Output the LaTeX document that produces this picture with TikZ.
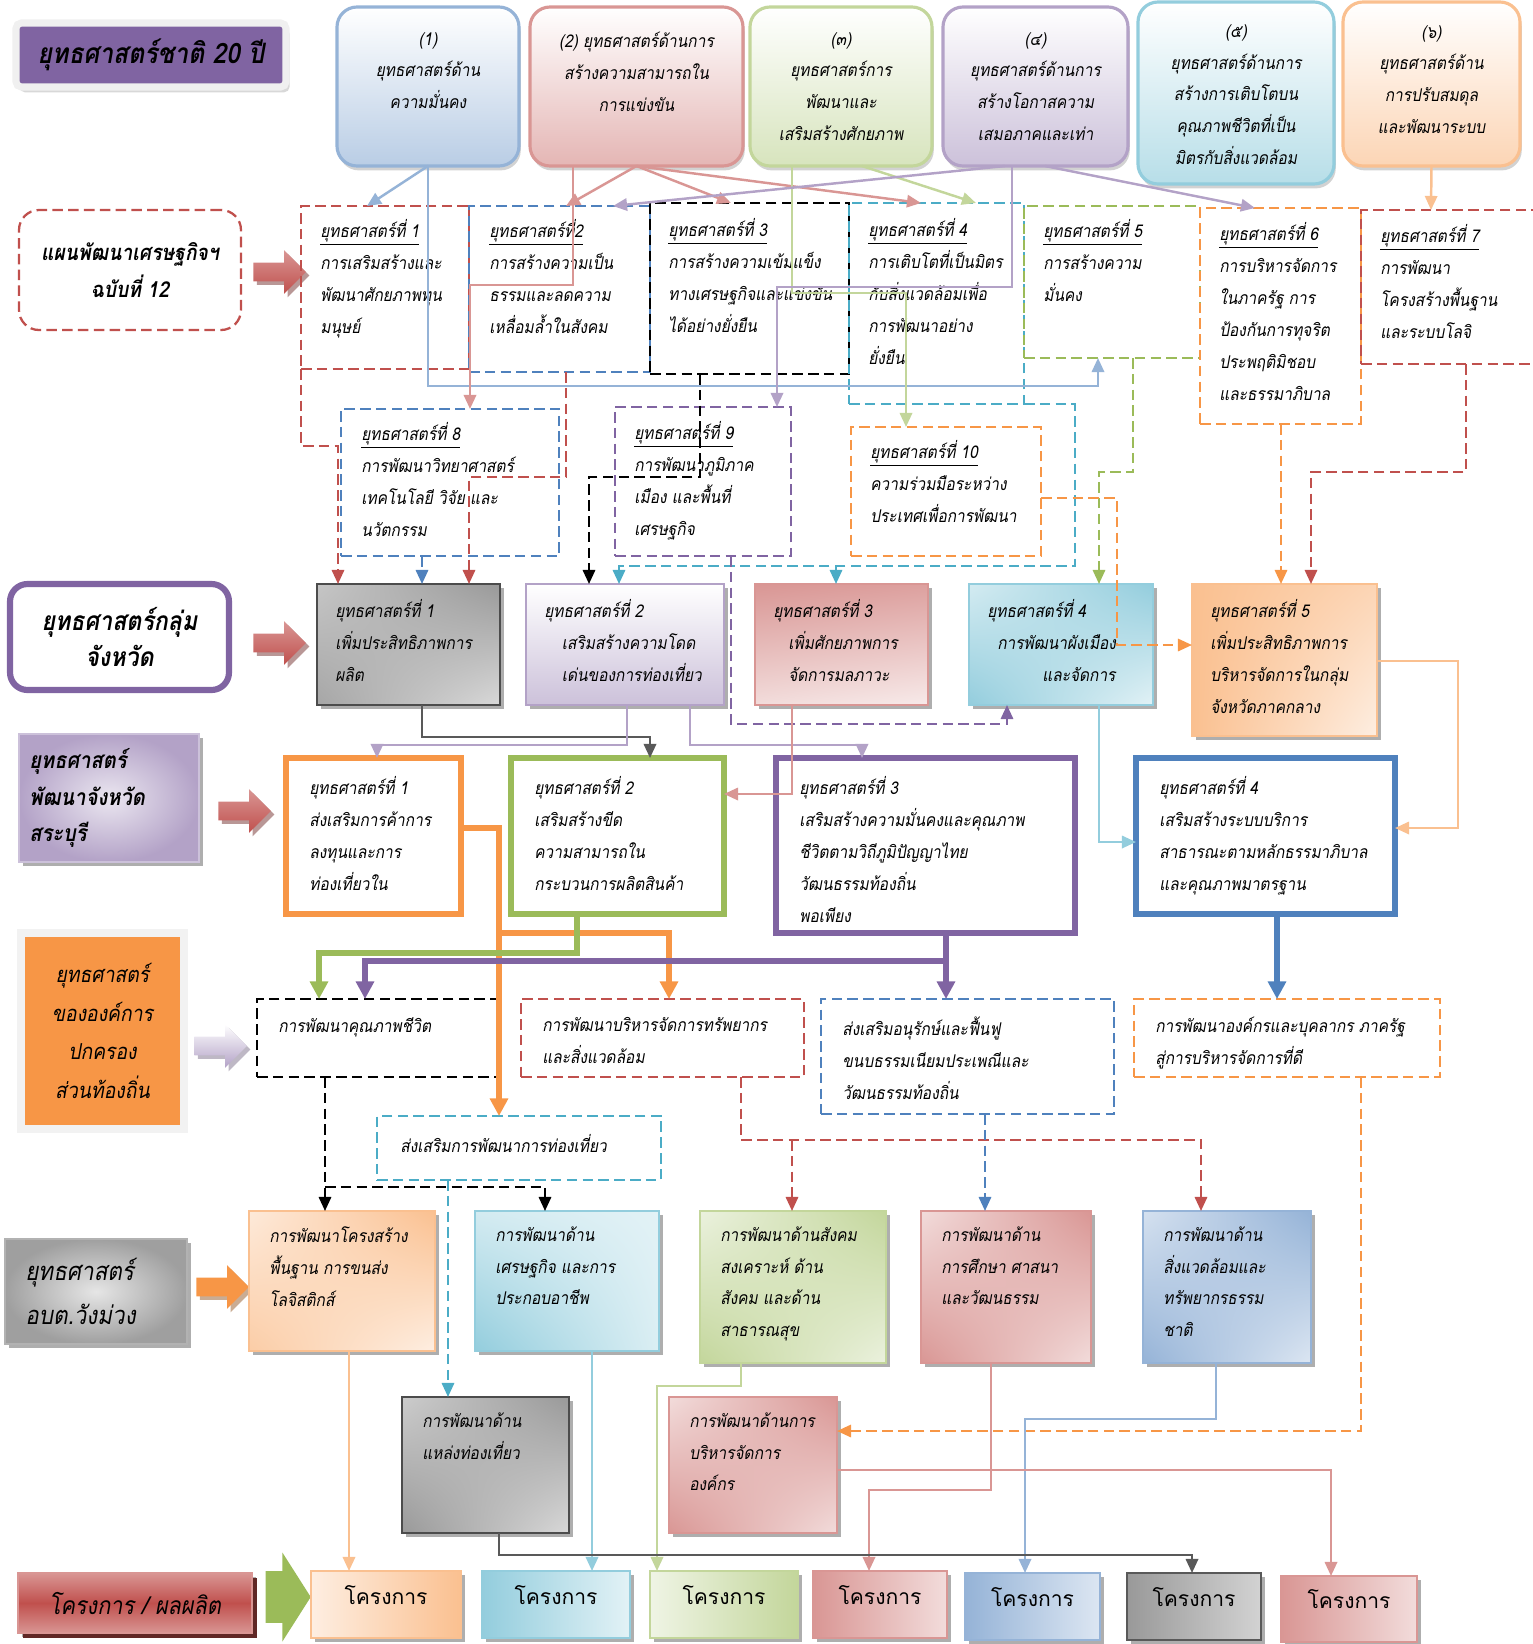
\documentclass[tikz,border=0pt]{standalone}
\usepackage{fontspec}
\setmainfont[Script=Thai,FakeSlant=0.18,FakeStretch=0.88]{Loma}
\newfontfamily\thaiup[Script=Thai]{Loma}
\usetikzlibrary{positioning,fit,arrows.meta,shapes.arrows,shadows,shadings}

\definecolor{ppD}{HTML}{8064A2}
\definecolor{ppL}{HTML}{CCC1DA}
\definecolor{ppB}{HTML}{B3A2C7}
\definecolor{blD}{HTML}{4F81BD}
\definecolor{blL}{HTML}{B9CDE5}
\definecolor{blB}{HTML}{95B3D7}
\definecolor{rdD}{HTML}{C0504D}
\definecolor{rdL}{HTML}{F2DCDB}
\definecolor{rdB}{HTML}{D99694}
\definecolor{gnD}{HTML}{9BBB59}
\definecolor{gnL}{HTML}{D7E4BD}
\definecolor{gnB}{HTML}{C3D69B}
\definecolor{cyD}{HTML}{4BACC6}
\definecolor{cyL}{HTML}{B7DEE8}
\definecolor{cyB}{HTML}{93CDDD}
\definecolor{orD}{HTML}{F79646}
\definecolor{orL}{HTML}{FCD5B5}
\definecolor{orB}{HTML}{FAC090}
\definecolor{gyD}{HTML}{595959}

\begin{document}
\begin{tikzpicture}[x=0.02cm, y=-0.02cm,
    box/.style={inner sep=0pt, outer sep=0pt},
    topbox/.style={box, rounded corners=0.4cm, line width=1.8pt, top color=white,
      drop shadow={shadow xshift=1pt, shadow yshift=-2.5pt, fill=black!35}},
    dbox/.style={box, line width=1.3pt, dash pattern=on 6pt off 3pt},
    shbox/.style={box, line width=1pt, drop shadow={shadow xshift=2.5pt, shadow yshift=-2.5pt, fill=black!45, opacity=.7}},
    vstbox/.style={box, line width=3.5pt, fill=white},
    kbox/.style={shbox, font=\thaiup\fontsize{12}{14}\selectfont},
    txt/.style={inner sep=0pt, align=left, font=\fontsize{10}{18.2}\selectfont},
    ttxt/.style={txt, align=center, font=\fontsize{10}{18}\selectfont},
    ttl/.style={inner sep=0pt, align=center, font=\bfseries\fontsize{15}{21}\selectfont},
    lbl/.style={inner sep=0pt, align=center, font=\fontsize{12.5}{22}\selectfont},
    blk/.style={single arrow, inner xsep=0pt, inner ysep=0.18cm, minimum height=1.05cm, minimum width=0.66cm},
    ln/.style={line width=1.4pt, -{Triangle[width=7pt,length=8pt]}},
    dln/.style={line width=1.3pt, dash pattern=on 6pt off 3pt, -{Triangle[width=7pt,length=8pt]}},
    tln/.style={line width=2.9pt, -{Triangle[width=10pt,length=10pt]}}
  ]
    \useasboundingbox (0,0) rectangle (1533,1644);

    % national strategy 20 years
    \node[box, fit={(16,23) (286,87)}, fill=ppD, draw=gray!12, line width=4pt, rounded corners=3pt,
      drop shadow={shadow xshift=2pt, shadow yshift=-3pt, fill=black!30}] (nat) {};
    \node[ttl, font=\bfseries\fontsize{16}{20}\selectfont] (natt) at (nat.center) {ยุทธศาสตร์ชาติ 20 ปี};

    \node[topbox, fit={(337,7) (519,166)}, draw=blB, bottom color=blL] (s1) {};
    \node[ttxt, below=0.5cm of s1.north] (s1t) {(1)\\ยุทธศาสตร์ด้าน\\ความมั่นคง};
    \node[topbox, fit={(530,7) (743,166)}, draw=rdB, bottom color=rdB!70] (s2) {};
    \node[ttxt, below=0.5cm of s2.north] (s2t) {(2) ยุทธศาสตร์ด้านการ\\สร้างความสามารถใน\\การแข่งขัน};
    \node[topbox, fit={(750,7) (932,166)}, draw=gnB, bottom color=gnL] (s3) {};
    \node[ttxt, below=0.5cm of s3.north] (s3t) {(๓)\\ยุทธศาสตร์การ\\พัฒนาและ\\เสริมสร้างศักยภาพ};
    \node[topbox, fit={(943,7) (1128,166)}, draw=ppB, bottom color=ppL] (s4) {};
    \node[ttxt, below=0.5cm of s4.north] (s4t) {(๔)\\ยุทธศาสตร์ด้านการ\\สร้างโอกาสความ\\เสมอภาคและเท่า};
    \node[topbox, fit={(1138,2) (1334,184)}, draw=cyB, bottom color=cyL] (s5) {};
    \node[ttxt, below=0.45cm of s5.north] (s5t) {(๕)\\ยุทธศาสตร์ด้านการ\\สร้างการเติบโตบน\\คุณภาพชีวิตที่เป็น\\มิตรกับสิ่งแวดล้อม};
    \node[topbox, fit={(1343,2) (1520,166)}, draw=orB, bottom color=orL] (s6) {};
    \node[ttxt, below=0.46cm of s6.north] (s6t) {(๖)\\ยุทธศาสตร์ด้าน\\การปรับสมดุล\\และพัฒนาระบบ};

    % plan no. 12
    \node[dbox, fit={(19,210) (241,330)}, draw=rdD, rounded corners=0.4cm] (plan) {};
    \node[ttl, font=\bfseries\fontsize{12.5}{21}\selectfont] (plant) at (plan.center) {แผนพัฒนาเศรษฐกิจฯ\\ฉบับที่ 12};
    \node[blk, top color=rdB, bottom color=rdD, drop shadow={shadow xshift=2pt, shadow yshift=-2pt, fill=rdD!60!black}] (ar1) at (275,272) {};

    \node[dbox, fit={(301,206) (469,369)}, draw=rdD] (b1) {};
    \node[txt, below right=0.26cm and 0.38cm of b1.north west] (b1t) {\underline{ยุทธศาสตร์ที่ 1}\\การเสริมสร้างและ\\พัฒนาศักยภาพทุน\\มนุษย์};
    \node[dbox, fit={(469,206) (650,372)}, draw=blD] (b2) {};
    \node[txt, below right=0.26cm and 0.4cm of b2.north west] (b2t) {\underline{ยุทธศาสตร์ที่2}\\การสร้างความเป็น\\ธรรมและลดความ\\เหลื่อมล้ำในสังคม};
    \node[dbox, fit={(650,203) (849,374)}, draw=black] (b3) {};
    \node[txt, below right=0.3cm and 0.36cm of b3.north west] (b3t) {\underline{ยุทธศาสตร์ที่ 3}\\การสร้างความเข้มแข็ง\\ทางเศรษฐกิจและแข่งขัน\\ได้อย่างยั่งยืน};
    \node[dbox, fit={(849,203) (1024,404)}, draw=cyD] (b4) {};
    \node[txt, below right=0.3cm and 0.38cm of b4.north west] (b4t) {\underline{ยุทธศาสตร์ที่ 4}\\การเติบโตที่เป็นมิตร\\กับสิ่งแวดล้อมเพื่อ\\การพัฒนาอย่าง\\ยั่งยืน};
    \node[dbox, fit={(1024,206) (1200,358)}, draw=gnD] (b5) {};
    \node[txt, below right=0.26cm and 0.38cm of b5.north west] (b5t) {\underline{ยุทธศาสตร์ที่ 5}\\การสร้างความ\\มั่นคง};
    \node[dbox, fit={(1200,208) (1361,424)}, draw=orD] (b6) {};
    \node[txt, below right=0.28cm and 0.38cm of b6.north west] (b6t) {\underline{ยุทธศาสตร์ที่ 6}\\การบริหารจัดการ\\ในภาครัฐ การ\\ป้องกันการทุจริต\\ประพฤติมิชอบ\\และธรรมาภิบาล};
    \node[dbox, fit={(1361,210) (1580,364)}, draw=rdD] (b7) {};
    \node[txt, below right=0.28cm and 0.38cm of b7.north west] (b7t) {\underline{ยุทธศาสตร์ที่ 7}\\การพัฒนา\\โครงสร้างพื้นฐาน\\และระบบโลจิ};
    \node[dbox, fit={(341,409) (559,556)}, draw=blD] (b8) {};
    \node[txt, below right=0.26cm and 0.4cm of b8.north west] (b8t) {\underline{ยุทธศาสตร์ที่ 8}\\การพัฒนาวิทยาศาสตร์\\เทคโนโลยี วิจัย และ\\นวัตกรรม};
    \node[dbox, fit={(615,407) (791,556)}, draw=ppD] (b9) {};
    \node[txt, below right=0.28cm and 0.38cm of b9.north west] (b9t) {\underline{ยุทธศาสตร์ที่ 9}\\การพัฒนาภูมิภาค\\เมือง และพื้นที่\\เศรษฐกิจ};
    \node[dbox, fit={(851,427) (1041,556)}, draw=orD] (b10) {};
    \node[txt, below right=0.26cm and 0.38cm of b10.north west] (b10t) {\underline{ยุทธศาสตร์ที่ 10}\\ความร่วมมือระหว่าง\\ประเทศเพื่อการพัฒนา};

    % provincial group
    \node[box, fit={(10,584) (229,690)}, draw=ppD, line width=3.5pt, rounded corners=0.35cm, fill=white] (grp) {};
    \node[ttl] (grpt) at (grp.center) {ยุทธศาสตร์กลุ่ม\\จังหวัด};
    \node[blk, top color=rdB, bottom color=rdD, drop shadow={shadow xshift=2pt, shadow yshift=-2pt, fill=rdD!60!black}] (ar2) at (275,643) {};

    \node[shbox, fit={(317,584) (500,705)}, draw=gray!60!black, line width=1.5pt,
      upper left=gray!45, upper right=gray!80, lower left=gray!70, lower right=gray!30] (g1) {};
    \node[txt, below right=0.3cm and 0.36cm of g1.north west] (g1t) {ยุทธศาสตร์ที่ 1\\เพิ่มประสิทธิภาพการ\\ผลิต};
    \node[shbox, fit={(526,584) (724,705)}, draw=ppB, top color=white, bottom color=ppL] (g2) {};
    \node[txt, below right=0.3cm and 0.36cm of g2.north west] (g2t) {ยุทธศาสตร์ที่ 2\\\hspace*{0.35cm}เสริมสร้างความโดด\\\hspace*{0.35cm}เด่นของการท่องเที่ยว};
    \node[shbox, fit={(755,584) (928,705)}, draw=rdB, upper left=rdB, upper right=rdB!90, lower left=rdL, lower right=rdL!60] (g3) {};
    \node[txt, below right=0.3cm and 0.36cm of g3.north west] (g3t) {ยุทธศาสตร์ที่ 3\\\hspace*{0.3cm}เพิ่มศักยภาพการ\\\hspace*{0.3cm}จัดการมลภาวะ};
    \node[shbox, fit={(969,584) (1153,705)}, draw=cyB, upper left=cyL!60, upper right=cyB, lower left=cyB, lower right=cyL!40] (g4) {};
    \node[txt, below right=0.3cm and 0.36cm of g4.north west] (g4t) {ยุทธศาสตร์ที่ 4\\\hspace*{0.2cm}การพัฒนาผังเมือง\\\hspace*{1.1cm}และจัดการ};
    \node[shbox, fit={(1192,584) (1377,736)}, draw=orB, upper left=orB, upper right=orL, lower left=orB, lower right=orL!40] (g5) {};
    \node[txt, below right=0.3cm and 0.36cm of g5.north west] (g5t) {ยุทธศาสตร์ที่ 5\\เพิ่มประสิทธิภาพการ\\บริหารจัดการในกลุ่ม\\จังหวัดภาคกลาง};

    % Saraburi province
    \node[shbox, fit={(19,734) (199,862)}, draw=ppL, inner color=ppL!40, outer color=ppB] (prv) {};
    \node[ttl, align=left, right=0.2cm of prv.west, font=\bfseries\fontsize{13}{21}\selectfont] (prvt) {ยุทธศาสตร์\\พัฒนาจังหวัด\\สระบุรี};
    \node[blk, top color=rdB, bottom color=rdD, drop shadow={shadow xshift=2pt, shadow yshift=-2pt, fill=rdD!60!black}] (ar3) at (240,811) {};

    \node[vstbox, fit={(286,758) (461,914)}, draw=orD] (v1) {};
    \node[txt, below right=0.36cm and 0.46cm of v1.north west] (v1t) {ยุทธศาสตร์ที่ 1\\ส่งเสริมการค้าการ\\ลงทุนและการ\\ท่องเที่ยวใน};
    \node[vstbox, fit={(511,758) (724,914)}, draw=gnD] (v2) {};
    \node[txt, below right=0.36cm and 0.46cm of v2.north west] (v2t) {ยุทธศาสตร์ที่ 2\\เสริมสร้างขีด\\ความสามารถใน\\กระบวนการผลิตสินค้า};
    \node[vstbox, fit={(776,758) (1075,933)}, draw=ppD] (v3) {};
    \node[txt, below right=0.36cm and 0.46cm of v3.north west] (v3t) {ยุทธศาสตร์ที่ 3\\เสริมสร้างความมั่นคงและคุณภาพ\\ชีวิตตามวิถีภูมิปัญญาไทย\\วัฒนธรรมท้องถิ่น\\พอเพียง};
    \node[vstbox, fit={(1136,758) (1395,914)}, draw=blD] (v4) {};
    \node[txt, below right=0.36cm and 0.46cm of v4.north west] (v4t) {ยุทธศาสตร์ที่ 4\\เสริมสร้างระบบบริการ\\สาธารณะตามหลักธรรมาภิบาล\\และคุณภาพมาตรฐาน};

    % local government
    \node[box, fit={(21,933) (184,1129)}, fill=orD, draw=gray!10, line width=5pt,
      drop shadow={shadow xshift=2pt, shadow yshift=-2pt, fill=brown!60}] (loc) {};
    \node[lbl] (loct) at (loc.center) {ยุทธศาสตร์\\ขององค์การ\\ปกครอง\\ส่วนท้องถิ่น};
    \node[blk, top color=white, bottom color=ppB, drop shadow={shadow xshift=2pt, shadow yshift=-2pt, fill=ppB!70!black}] (ar4) at (216,1046) {};

    \node[dbox, fit={(257,999) (498,1077)}, draw=black] (l1) {};
    \node[txt, below right=0.36cm and 0.42cm of l1.north west] (l1t) {การพัฒนาคุณภาพชีวิต};
    \node[dbox, fit={(521,999) (804,1077)}, draw=rdD] (l2) {};
    \node[txt, below right=0.36cm and 0.42cm of l2.north west] (l2t) {การพัฒนาบริหารจัดการทรัพยากร\\และสิ่งแวดล้อม};
    \node[dbox, fit={(821,999) (1114,1114)}, draw=blD] (l3) {};
    \node[txt, below right=0.36cm and 0.42cm of l3.north west] (l3t) {ส่งเสริมอนุรักษ์และฟื้นฟู\\ขนบธรรมเนียมประเพณีและ\\วัฒนธรรมท้องถิ่น};
    \node[dbox, fit={(1134,999) (1440,1077)}, draw=orD] (l4) {};
    \node[txt, below right=0.36cm and 0.42cm of l4.north west] (l4t) {การพัฒนาองค์กรและบุคลากร ภาครัฐ\\สู่การบริหารจัดการที่ดี};
    \node[dbox, fit={(377,1116) (661,1180)}, draw=cyD] (l5) {};
    \node[txt, below right=0.36cm and 0.46cm of l5.north west] (l5t) {ส่งเสริมการพัฒนาการท่องเที่ยว};

    % Wang Muang SAO
    \node[shbox, fit={(5,1239) (187,1344)}, draw=gray!60, line width=1.5pt, inner color=gray!20, outer color=gray!75] (sao) {};
    \node[lbl, align=left, right=0.4cm of sao.west, font=\fontsize{14.5}{25}\selectfont] (saot) {ยุทธศาสตร์\\อบต.วังม่วง};
    \node[blk, fill=orD, drop shadow={shadow xshift=2pt, shadow yshift=-2pt, fill=orD!60!black}] (ar5) at (218,1287) {};

    \node[shbox, fit={(249,1211) (435,1351)}, draw=orB, upper left=orL!50, upper right=orB, lower left=orB!80, lower right=orL!40] (d1) {};
    \node[txt, below right=0.3cm and 0.4cm of d1.north west] (d1t) {การพัฒนาโครงสร้าง\\พื้นฐาน การขนส่ง\\โลจิสติกส์};
    \node[shbox, fit={(475,1211) (659,1351)}, draw=cyB, upper left=cyL!60, upper right=cyL!40, lower left=cyB, lower right=cyL!50] (d2) {};
    \node[txt, below right=0.3cm and 0.4cm of d2.north west] (d2t) {การพัฒนาด้าน\\เศรษฐกิจ และการ\\ประกอบอาชีพ};
    \node[shbox, fit={(700,1211) (886,1363)}, draw=gnB, upper left=gnL!50, upper right=gnB, lower left=gnB, lower right=gnL!50] (d3) {};
    \node[txt, below right=0.3cm and 0.4cm of d3.north west] (d3t) {การพัฒนาด้านสังคม\\สงเคราะห์ ด้าน\\สังคม และด้าน\\สาธารณสุข};
    \node[shbox, fit={(921,1211) (1091,1363)}, draw=rdB, upper left=rdL, upper right=rdB, lower left=rdB, lower right=rdL] (d4) {};
    \node[txt, below right=0.3cm and 0.4cm of d4.north west] (d4t) {การพัฒนาด้าน\\การศึกษา ศาสนา\\และวัฒนธรรม};
    \node[shbox, fit={(1143,1211) (1311,1363)}, draw=blB, upper left=blL!60, upper right=blB, lower left=blB, lower right=blL!50] (d5) {};
    \node[txt, below right=0.3cm and 0.4cm of d5.north west] (d5t) {การพัฒนาด้าน\\สิ่งแวดล้อมและ\\ทรัพยากรธรรม\\ชาติ};
    \node[shbox, fit={(402,1397) (569,1533)}, draw=gray!60!black, line width=1.5pt, upper left=gray!40, upper right=gray!80, lower left=gray!80, lower right=gray!30] (d6) {};
    \node[txt, below right=0.3cm and 0.4cm of d6.north west] (d6t) {การพัฒนาด้าน\\แหล่งท่องเที่ยว};
    \node[shbox, fit={(669,1397) (837,1533)}, draw=rdB, upper left=rdL, upper right=rdB, lower left=rdB, lower right=rdL] (d7) {};
    \node[txt, below right=0.3cm and 0.4cm of d7.north west] (d7t) {การพัฒนาด้านการ\\บริหารจัดการ\\องค์กร};

    % projects
    \node[shbox, fit={(18,1573) (252,1633)}, draw=rdB, top color=rdB, bottom color=rdB, middle color=rdD,
      drop shadow={shadow xshift=3pt, shadow yshift=-3pt, fill=rdD!50!black, opacity=1}] (prj) {};
    \node[lbl, font=\fontsize{14}{16}\selectfont] (prjt) at (prj.center) {โครงการ / ผลผลิต};
    \node[single arrow, single arrow tip angle=115, fill=gnD, inner xsep=0pt, inner ysep=0.34cm, minimum height=0.9cm, minimum width=1.78cm] (ar6) at (280,1597) {};

    \node[kbox, fit={(311,1571) (461,1638)}, draw=orB, left color=orL!40, right color=orB] (k1) {โครงการ};
    \node[kbox, fit={(482,1571) (630,1638)}, draw=cyB, left color=cyB, right color=cyL!40] (k2) {โครงการ};
    \node[kbox, fit={(650,1571) (798,1638)}, draw=gnB, left color=gnL!40, right color=gnB] (k3) {โครงการ};
    \node[kbox, fit={(813,1571) (947,1638)}, draw=rdB, left color=rdB, right color=rdL] (k4) {โครงการ};
    \node[kbox, fit={(965,1573) (1100,1640)}, draw=blB, left color=blB, right color=blL!50] (k5) {โครงการ};
    \node[kbox, fit={(1127,1573) (1261,1640)}, draw=gray!70!black, line width=1.5pt, left color=gray!80, right color=gray!35] (k6) {โครงการ};
    \node[kbox, fit={(1281,1576) (1417,1642)}, draw=rdB, left color=rdB, right color=rdL] (k7) {โครงการ};

    % national strategy -> plan 12
    \draw[ln, blB] (s1.south) -- (b1.north -| 367,0);
    \draw[ln, blB] (s1.south) |- (1098,386) -- (b5.south -| 1098,0);
    \draw[ln, rdB] (s2.south) -- (b2.north -| 566,0);
    \draw[ln, rdB] (s2.south) -- (b3.north -| 731,0);
    \draw[ln, rdB] (s2.south) -- (b4.north -| 921,0);
    \draw[ln, rdB] (s2.south -| 573,0) |- (470,285) -- (b8.north -| 470,0);
    \draw[ln, gnB] (s3.south -| 792,0) |- (906,293) -- (b10.north -| 906,0);
    \draw[ln, gnB] (s3.south -| 862,0) -- (b4.north -| 976,0);
    \draw[ln, ppB] (s4.south -| 1012,0) |- (777,287) -- (b9.north -| 777,0);
    \draw[ln, ppB] (s4.south -| 1005,0) -- (b2.north -| 613,0);
    \draw[ln, ppB] (s4.south -| 1045,0) -- (b6.north -| 1255,0);
    \draw[ln, orB] (s6.south) -- (b7.north -| 1431,0);

    % plan 12 -> provincial group
    \draw[dln, rdD] (b1.south west) -- (301,446) -| (g1.north -| 338,0);
    \draw[dln, rdD] (b2.south -| 566,0) |- (469,477) -- (g1.north -| 469,0);
    \draw[dln, blD] (b8.south -| 422,0) -- (g1.north -| 422,0);
    \draw[dln, black] (b3.south -| 700,0) |- (589,477) -- (g2.north -| 589,0);
    \draw[dln, cyD] (b4.south east) -- (1075,404) |- (619,566) -- (g2.north -| 619,0);
    \draw[dln, cyD] (836,566) -- (g3.north -| 836,0);
    \draw[dln, ppD] (b9.south -| 731,0) |- (1007,724) -- (g4.south -| 1007,0);
    \draw[dln, gnD] (b5.south -| 1133,0) |- (1099,472) -- (g4.north -| 1099,0);
    \draw[dln, orD] (b10.east |- 0,498) -| (1117,645) -- (g5.west |- 0,645);
    \draw[dln, orD] (b6.south -| 1281,0) -- (g5.north -| 1281,0);
    \draw[dln, rdD] (b7.south -| 1466,0) |- (1311,472) -- (g5.north -| 1311,0);

    % provincial group -> province
    \draw[ln, gyD] (g1.south -| 422,0) |- (650,737) -- (v2.north -| 650,0);
    \draw[ln, ppB] (g2.south -| 627,0) |- (377,745) -- (v1.north -| 377,0);
    \draw[ln, ppB] (g2.south -| 690,0) |- (862,745) -- (v3.north -| 862,0);
    \draw[ln, rdB] (g3.south -| 792,0) |- (v2.east |- 0,794);
    \draw[ln, cyB] (g4.south -| 1099,0) |- (v4.west |- 0,842);
    \draw[ln, orB] (g5.east |- 0,661) -| (1458,828) -- (v4.east |- 0,828);

    % province -> local government
    \draw[tln, orD] (v1.east |- 0,828) -| (l5.north -| 499,0);
    \draw[tln, orD] (499,933) -| (l2.north -| 669,0);
    \draw[tln, gnD] (v2.south -| 577,0) |- (319,953) -- (l1.north -| 319,0);
    \draw[tln, ppD] (v3.south -| 946,0) -- (l3.north -| 946,0);
    \draw[tln, ppD] (946,961) -| (l1.north -| 365,0);
    \draw[tln, blD] (v4.south -| 1277,0) -- (l4.north -| 1277,0);

    % local government -> SAO
    \draw[dln, black] (l1.south -| 325,0) -- (d1.north -| 325,0);
    \draw[dln, black] (325,1187) -| (d2.north -| 545,0);
    \draw[dln, cyD] (l5.south -| 448,0) -- (d6.north -| 448,0);
    \draw[dln, rdD] (l2.south -| 741,0) |- (1201,1140) -- (d5.north -| 1201,0);
    \draw[dln, rdD] (792,1140) -- (d3.north -| 792,0);
    \draw[dln, blD] (l3.south -| 985,0) -- (d4.north -| 985,0);
    \draw[dln, orD] (l4.south -| 1361,0) |- (d7.east |- 0,1431);

    % SAO -> projects
    \draw[ln, orB] (d1.south -| 349,0) -- (k1.north -| 349,0);
    \draw[ln, cyB] (d2.south -| 592,0) -- (k2.north -| 592,0);
    \draw[ln, gnB] (d3.south -| 741,0) |- (657,1386) -- (k3.north -| 657,0);
    \draw[ln, rdB] (d4.south -| 991,0) |- (869,1490) -- (k4.north -| 869,0);
    \draw[ln, blB] (d5.south -| 1216,0) |- (1025,1419) -- (k5.north -| 1025,0);
    \draw[ln, gyD] (d6.south -| 499,0) |- (1192,1555) -- (k6.north -| 1192,0);
    \draw[ln, rdB] (d7.east |- 0,1470) -| (k7.north -| 1331,0);
\end{tikzpicture}
\end{document}
